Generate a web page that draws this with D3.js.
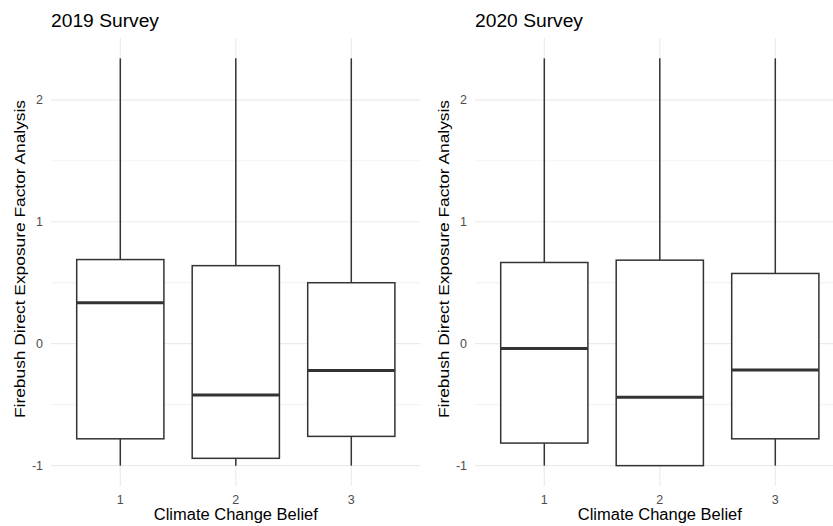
<!DOCTYPE html>
<html><head><meta charset="utf-8">
<script src="https://cdn.jsdelivr.net/npm/d3@7/dist/d3.min.js"></script>
<style>body{margin:0;background:#fff;font-family:"Liberation Sans",Arial,sans-serif;}</style>
</head><body><div id="chart"></div>
<script>
const categories = ["1","2","3"];
const yTicks = [-1,0,1,2];
const yMinor = [-0.5,0.5,1.5];
const titles = ["2019 Survey","2020 Survey"];
const whiskerLow2019 = [-1,-1,-1];
const q1_2019 = [-0.78,-0.94,-0.76];
const median2019 = [0.335,-0.42,-0.22];
const q3_2019 = [0.69,0.64,0.5];
const whiskerHigh2019 = [2.34,2.34,2.34];
const whiskerLow2020 = [-1,-1,-1];
const q1_2020 = [-0.815,-1.0,-0.78];
const median2020 = [-0.04,-0.44,-0.215];
const q3_2020 = [0.666,0.685,0.576];
const whiskerHigh2020 = [2.34,2.34,2.34];
const xTitle = "Climate Change Belief";
const yTitle = "Firebush Direct Exposure Factor Analysis";

const W=833,H=526;
const svg=d3.select("#chart").append("svg").attr("width",W).attr("height",H);
const panels=[
 {x0:51,x1:420.6,lo:whiskerLow2019,q1:q1_2019,med:median2019,q3:q3_2019,hi:whiskerHigh2019},
 {x0:475,x1:844.6,lo:whiskerLow2020,q1:q1_2020,med:median2020,q3:q3_2020,hi:whiskerHigh2020}
];
const y=d3.scaleLinear().domain([-1.167,2.507]).range([486,38]);
panels.forEach((p,pi)=>{
  const g=svg.append("g");
  const x=d3.scalePoint().domain(categories).range([p.x0,p.x1]).padding(0.6);
  g.selectAll(".ymin").data(yMinor).join("line").attr("x1",p.x0).attr("x2",p.x1)
   .attr("y1",d=>y(d)).attr("y2",d=>y(d)).attr("stroke","#ececec").attr("stroke-width",0.7);
  g.selectAll(".ymaj").data(yTicks).join("line").attr("x1",p.x0).attr("x2",p.x1)
   .attr("y1",d=>y(d)).attr("y2",d=>y(d)).attr("stroke","#ebebeb").attr("stroke-width",1.2);
  g.selectAll(".xmaj").data(categories).join("line").attr("x1",d=>x(d)).attr("x2",d=>x(d))
   .attr("y1",38).attr("y2",486).attr("stroke","#ebebeb").attr("stroke-width",1.2);
  g.selectAll(".yt").data(yTicks).join("text").attr("x",p.x0-8).attr("y",d=>y(d)).attr("dy","0.36em")
   .attr("text-anchor","end").attr("font-size",12.5).attr("fill","#4d4d4d").text(d=>d);
  g.selectAll(".xt").data(categories).join("text").attr("x",d=>x(d)).attr("y",504)
   .attr("text-anchor","middle").attr("font-size",12.5).attr("fill","#4d4d4d").text(d=>d);
  g.append("text").attr("x",p.x0).attr("y",27).attr("font-size",18).attr("fill","#000")
   .attr("textLength",108).attr("lengthAdjust","spacingAndGlyphs").text(titles[pi]);
  g.append("text").attr("x",(p.x0+p.x1)/2).attr("y",520).attr("text-anchor","middle")
   .attr("font-size",16).attr("fill","#000").attr("textLength",164).attr("lengthAdjust","spacingAndGlyphs").text(xTitle);
  g.append("text").attr("transform",`translate(${p.x0-26},259) rotate(-90)`)
   .attr("text-anchor","middle").attr("font-size",15.5).attr("fill","#000")
   .attr("textLength",318).attr("lengthAdjust","spacingAndGlyphs").text(yTitle);
  const bw=x.step()*0.755;
  categories.forEach((c,i)=>{
    const cx=x(c);
    g.append("line").attr("x1",cx).attr("x2",cx).attr("y1",y(p.hi[i])).attr("y2",y(p.q3[i])).attr("stroke","#333").attr("stroke-width",1.5);
    g.append("line").attr("x1",cx).attr("x2",cx).attr("y1",y(p.q1[i])).attr("y2",y(p.lo[i])).attr("stroke","#333").attr("stroke-width",1.5);
    g.append("rect").attr("x",cx-bw/2).attr("width",bw).attr("y",y(p.q3[i])).attr("height",y(p.q1[i])-y(p.q3[i]))
     .attr("fill","#fff").attr("stroke","#333").attr("stroke-width",1.5);
    g.append("line").attr("x1",cx-bw/2).attr("x2",cx+bw/2).attr("y1",y(p.med[i])).attr("y2",y(p.med[i])).attr("stroke","#333").attr("stroke-width",3);
  });
});
</script></body></html>
